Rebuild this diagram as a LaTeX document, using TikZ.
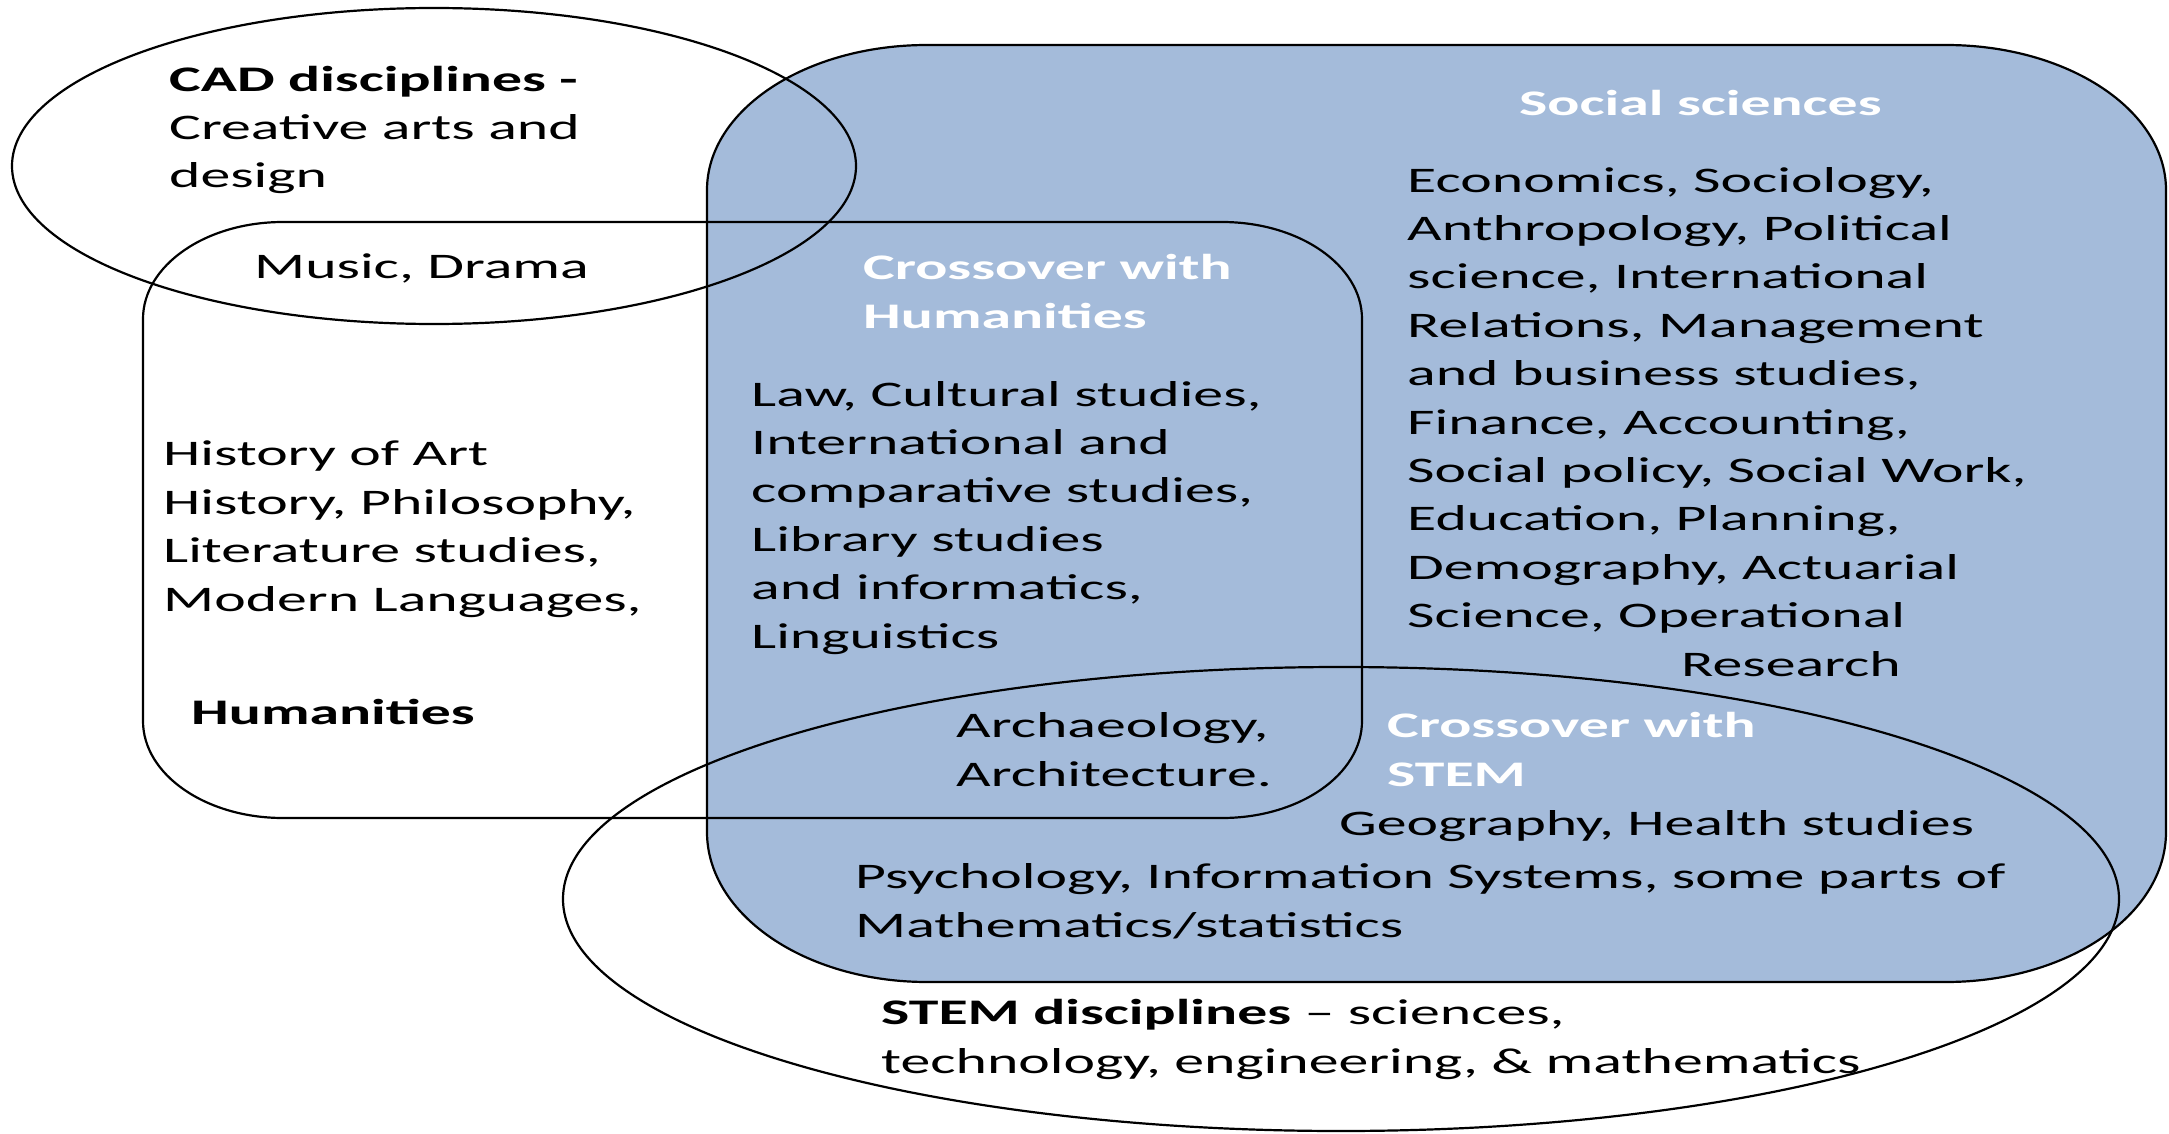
\documentclass[tikz,border=0pt]{standalone}
\usepackage{fontspec}
\setmainfont{Carlito}[FakeStretch=1.66]
\definecolor{ssblue}{RGB}{164,187,218}
\begin{document}
\begin{tikzpicture}[x=1pt,y=-1pt,
  outline/.style={line width=2.2pt, draw=black},
  lbl/.style={anchor=base west, inner sep=0pt, align=left, font=\fontsize{36}{48.4}\selectfont},
  bold/.style={lbl, font=\fontsize{36}{48.4}\selectfont\bfseries},
  head/.style={bold, text=white}]
\useasboundingbox (0,0) rectangle (2169,1134);
% social sciences (filled)
\path[fill=ssblue, outline] (927,45) -- (1946,45)
  arc[start angle=270,end angle=360,x radius=220,y radius=145] -- (2166,832)
  arc[start angle=0,end angle=90,x radius=220,y radius=150] -- (927,982)
  arc[start angle=90,end angle=180,x radius=220,y radius=150] -- (707,190)
  arc[start angle=180,end angle=270,x radius=220,y radius=145] -- cycle;
% humanities
\draw[outline] (283,222) -- (1222,222)
  arc[start angle=270,end angle=360,x radius=140,y radius=97] -- (1362,721)
  arc[start angle=0,end angle=90,x radius=140,y radius=97] -- (283,818)
  arc[start angle=90,end angle=180,x radius=140,y radius=97] -- (143,319)
  arc[start angle=180,end angle=270,x radius=140,y radius=97] -- cycle;
% CAD and STEM ellipses
\draw[outline] (434,166) ellipse[x radius=422, y radius=158];
\draw[outline] (1341,899) ellipse[x radius=778, y radius=232];
% texts (anchor = baseline of the last line)
\node[lbl] (cad) at (169,188) {\textbf{CAD disciplines -}\\Creative arts and\\design};
\node[lbl] (music) at (254,279) {Music, Drama};
\node[lbl] (hum) at (163,611) {History of Art\\History, Philosophy,\\Literature studies,\\Modern Languages,};
\node[bold] (humt) at (191,724) {Humanities};
\node[head] (xh) at (863,328) {Crossover with\\Humanities};
\node[lbl] (law) at (751,648) {Law, Cultural studies,\\International and\\comparative studies,\\Library studies\\and informatics,\\Linguistics};
\node[head] (ss) at (1519,116) {Social sciences};
\node[lbl] (econ) at (1407,676) {Economics, Sociology,\\Anthropology, Political\\science, International\\Relations, Management\\and business studies,\\Finance, Accounting,\\Social policy, Social Work,\\Education, Planning,\\Demography, Actuarial\\Science, Operational\\\hspace*{274pt}Research};
\node[lbl] (arch) at (956,786) {Archaeology,\\Architecture.};
\node[head] (xs) at (1387,786) {Crossover with\\STEM};
\node[lbl] (geo) at (1339,835) {Geography, Health studies};
\node[lbl] (psy) at (855,937) {Psychology, Information Systems, some parts of\\Mathematics/statistics};
\node[lbl] (stem) at (881,1073) {\textbf{STEM disciplines} -- sciences,\\technology, engineering, \& mathematics};
\end{tikzpicture}
\end{document}
